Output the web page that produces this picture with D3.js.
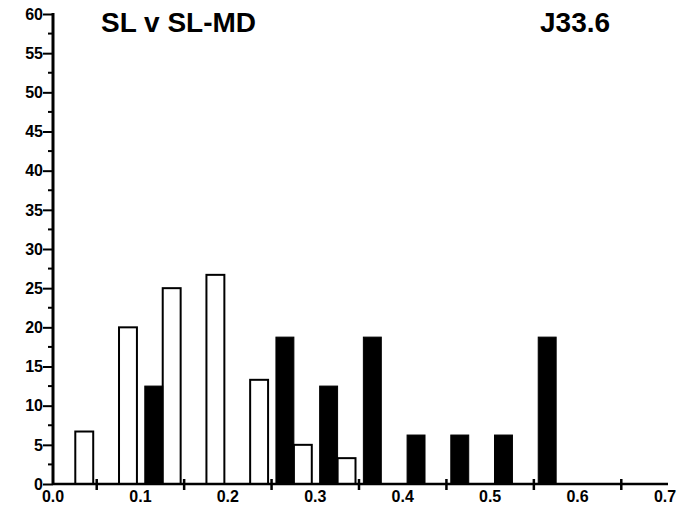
<!DOCTYPE html>
<html>
<head>
<meta charset="utf-8">
<script src="https://cdn.jsdelivr.net/npm/d3@7"></script>
<style>
  html, body { margin: 0; padding: 0; background: #fff; }
  svg { display: block; }
</style>
</head>
<body>
<div id="chart"></div>
<script>
// Bin start positions (width 0.05)
const binStarts = [0.00, 0.05, 0.10, 0.15, 0.20, 0.25, 0.30, 0.35, 0.40, 0.45, 0.50, 0.55];
// Open (white) series: SL
const whiteValues = [6.7, 20, 25, 26.7, 13.3, 5, 3.3, 0, 0, 0, 0, 0];
// Filled (black) series: SL-MD
const blackValues = [0, 0, 12.5, 0, 0, 18.75, 12.5, 18.75, 6.25, 6.25, 6.25, 18.75];
const xTickLabels = [0.0, 0.1, 0.2, 0.3, 0.4, 0.5, 0.6, 0.7];
const xTickMarks = [0.05, 0.15, 0.25, 0.35, 0.45, 0.55, 0.65];
const yTickLabels = [0, 5, 10, 15, 20, 25, 30, 35, 40, 45, 50, 55, 60];
const titleLeft = "SL v SL-MD";
const titleRight = "J33.6";

const W = 683, H = 515;
const FONT = "Liberation Sans, Arial, sans-serif";
const LBL = 16;
const svg = d3.select("#chart").append("svg").attr("width", W).attr("height", H);

const x = d3.scaleLinear().domain([0, 0.7]).range([53, 665]);
const y = d3.scaleLinear().domain([0, 60]).range([484, 14]);

const blackOff = 0.005, whiteOff = 0.0255, barW = 0.0205;

const g = svg.append("g");

// bars
const rows = binStarts.map((b, i) => ({ b, w: whiteValues[i], k: blackValues[i] }));
g.selectAll("rect.white").data(rows.filter(d => d.w > 0)).join("rect")
  .attr("class", "white")
  .attr("x", d => x(d.b + whiteOff))
  .attr("width", d => x(d.b + whiteOff + barW) - x(d.b + whiteOff))
  .attr("y", d => y(d.w))
  .attr("height", d => y(0) - y(d.w))
  .attr("fill", "#fff").attr("stroke", "#000").attr("stroke-width", 2);

g.selectAll("rect.black").data(rows.filter(d => d.k > 0)).join("rect")
  .attr("class", "black")
  .attr("x", d => x(d.b + blackOff))
  .attr("width", d => x(d.b + blackOff + barW) - x(d.b + blackOff))
  .attr("y", d => y(d.k))
  .attr("height", d => y(0) - y(d.k))
  .attr("fill", "#000").attr("stroke", "#000").attr("stroke-width", 1);

// y axis (lines via d3.axisLeft, labels drawn below)
const yAxis = d3.axisLeft(y).tickValues(yTickLabels).tickSize(10).tickFormat("");
const ya = svg.append("g").attr("transform", `translate(${x(0)},0)`).call(yAxis);
ya.select(".domain").attr("stroke-width", 3).attr("d", `M0,${y(60)-1}V${y(0)}`);
ya.selectAll(".tick line").attr("stroke-width", 2);
svg.append("g").selectAll("text").data(yTickLabels).join("text")
  .attr("x", x(0) - 10).attr("y", d => y(d)).attr("dy", "0.36em")
  .attr("text-anchor", "end")
  .attr("font-family", FONT).attr("font-weight", "bold").attr("font-size", LBL)
  .attr("fill", "#000").text(d => d3.format("d")(d));
// minor y ticks
const yMinor = d3.range(2.5, 60, 5);
svg.append("g").selectAll("line").data(yMinor).join("line")
  .attr("x1", x(0) - 5).attr("x2", x(0))
  .attr("y1", d => y(d)).attr("y2", d => y(d))
  .attr("stroke", "#000").attr("stroke-width", 2);

// x axis line
svg.append("line").attr("x1", x(0)).attr("x2", x(0.7) + 3)
  .attr("y1", y(0)).attr("y2", y(0)).attr("stroke", "#000").attr("stroke-width", 2.5);
svg.append("g").selectAll("text").data(xTickLabels).join("text")
  .attr("x", d => x(d)).attr("y", y(0) + 18)
  .attr("text-anchor", "middle")
  .attr("font-family", FONT).attr("font-weight", "bold").attr("font-size", LBL)
  .attr("fill", "#000").text(d => d3.format(".1f")(d));
// x tick marks crossing the axis at mid-bins
svg.append("g").selectAll("line").data(xTickMarks).join("line")
  .attr("x1", d => x(d)).attr("x2", d => x(d))
  .attr("y1", y(0) - 5).attr("y2", y(0) + 6)
  .attr("stroke", "#000").attr("stroke-width", 2.5);

// titles
svg.append("text").attr("x", 101).attr("y", 32)
  .attr("font-family", FONT).attr("font-size", 28).attr("font-weight", "bold")
  .attr("fill", "#000").text(titleLeft);
svg.append("text").attr("x", 540).attr("y", 32)
  .attr("font-family", FONT).attr("font-size", 28).attr("font-weight", "bold")
  .attr("fill", "#000").text(titleRight);
</script>
</body>
</html>
